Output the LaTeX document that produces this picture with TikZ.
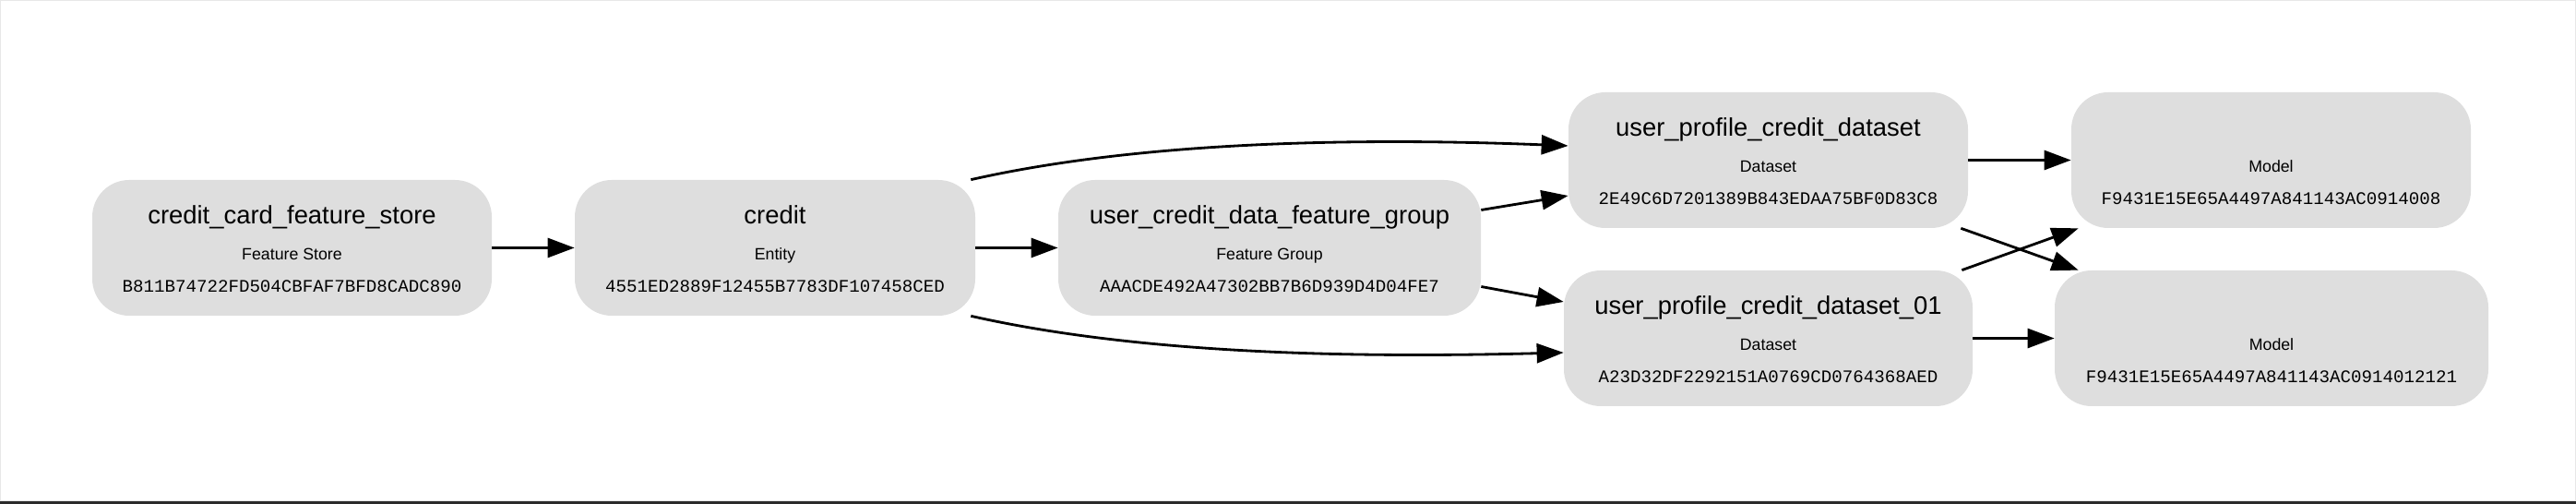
\documentclass[tikz,border=0pt]{standalone}
\usepackage{fontspec}
\setmainfont{Liberation Sans}
\newfontfamily\hashfont{Liberation Mono}
\usetikzlibrary{arrows.meta}
\definecolor{boxgray}{RGB}{222,222,222}
\definecolor{framegray}{RGB}{232,232,232}
\definecolor{bargray}{RGB}{43,43,43}
\begin{document}
\begin{tikzpicture}[
  card/.style={fill=boxgray, rounded corners=0.8cm, minimum height=2.94cm, inner sep=0pt},
  titletext/.style={anchor=base, inner sep=0pt, font=\fontsize{15.6}{18}\selectfont},
  kindtext/.style={anchor=base, inner sep=0pt, font=\fontsize{10.1}{12}\selectfont},
  hashtext/.style={anchor=base, inner sep=0pt, font=\hashfont\fontsize{10.9}{12}\selectfont},
  link/.style={line width=1.6pt, -{Triangle[length=0.58cm, width=0.42cm]}}
]
\useasboundingbox (0,0) rectangle (55.84,10.92);
\draw[framegray, line width=0.8pt] (0.01,0.07) rectangle (55.83,10.91);
\fill[bargray] (0,0) rectangle (55.84,0.065);

% boxes
\node[card, minimum width=8.66cm] (store) at (6.33,5.55) {};
\node[card, minimum width=8.68cm] (entity) at (16.80,5.55) {};
\node[card, minimum width=9.16cm] (group) at (27.52,5.55) {};
\node[card, minimum width=8.66cm] (dsa) at (38.33,7.45) {};
\node[card, minimum width=8.86cm] (dsb) at (38.33,3.59) {};
\node[card, minimum width=8.66cm] (mdla) at (49.23,7.45) {};
\node[card, minimum width=9.40cm] (mdlb) at (49.24,3.59) {};

% texts
\node[titletext] (store-t) at ([yshift=0.51cm]store.center) {credit\_card\_feature\_store};
\node[kindtext] (store-k) at ([yshift=-0.27cm]store.center) {Feature Store};
\node[hashtext] (store-h) at ([yshift=-0.97cm]store.center) {B811B74722FD504CBFAF7BFD8CADC890};

\node[titletext] (entity-t) at ([yshift=0.51cm]entity.center) {credit};
\node[kindtext] (entity-k) at ([yshift=-0.27cm]entity.center) {Entity};
\node[hashtext] (entity-h) at ([yshift=-0.97cm]entity.center) {4551ED2889F12455B7783DF107458CED};

\node[titletext] (group-t) at ([yshift=0.51cm]group.center) {user\_credit\_data\_feature\_group};
\node[kindtext] (group-k) at ([yshift=-0.27cm]group.center) {Feature Group};
\node[hashtext] (group-h) at ([yshift=-0.97cm]group.center) {AAACDE492A47302BB7B6D939D4D04FE7};

\node[titletext] (dsa-t) at ([yshift=0.51cm]dsa.center) {user\_profile\_credit\_dataset};
\node[kindtext] (dsa-k) at ([yshift=-0.27cm]dsa.center) {Dataset};
\node[hashtext] (dsa-h) at ([yshift=-0.97cm]dsa.center) {2E49C6D7201389B843EDAA75BF0D83C8};

\node[titletext] (dsb-t) at ([yshift=0.51cm]dsb.center) {user\_profile\_credit\_dataset\_01};
\node[kindtext] (dsb-k) at ([yshift=-0.27cm]dsb.center) {Dataset};
\node[hashtext] (dsb-h) at ([yshift=-0.97cm]dsb.center) {A23D32DF2292151A0769CD0764368AED};

\node[kindtext] (mdla-k) at ([yshift=-0.27cm]mdla.center) {Model};
\node[hashtext] (mdla-h) at ([yshift=-0.97cm]mdla.center) {F9431E15E65A4497A841143AC0914008};

\node[kindtext] (mdlb-k) at ([yshift=-0.27cm]mdlb.center) {Model};
\node[hashtext] (mdlb-h) at ([yshift=-0.97cm]mdlb.center) {F9431E15E65A4497A841143AC0914012121};

% links
\draw[link] (store.east) -- (entity.west);
\draw[link] (entity.east) -- (group.west);
\draw[link] ([xshift=-0.1cm]entity.north east) .. controls (25.0,7.92) and (30.0,7.92) .. ([yshift=0.31cm]dsa.west);
\draw[link] ([xshift=-0.1cm]entity.south east) .. controls (25.0,3.18) and (30.0,3.18) .. ([yshift=-0.31cm]dsb.west);
\draw[link] ([yshift=0.82cm]group.east) -- ([yshift=-0.77cm]dsa.west);
\draw[link] ([yshift=-0.84cm]group.east) -- ([yshift=0.79cm]dsb.west);
\draw[link] (dsa.east) -- (mdla.west);
\draw[link] (dsb.east) -- (mdlb.west);
\draw[link] ([xshift=-0.16cm]dsa.south east) -- ([xshift=0.52cm]mdlb.north west);
\draw[link] ([xshift=-0.24cm]dsb.north east) -- ([xshift=0.16cm]mdla.south west);
\end{tikzpicture}
\end{document}
